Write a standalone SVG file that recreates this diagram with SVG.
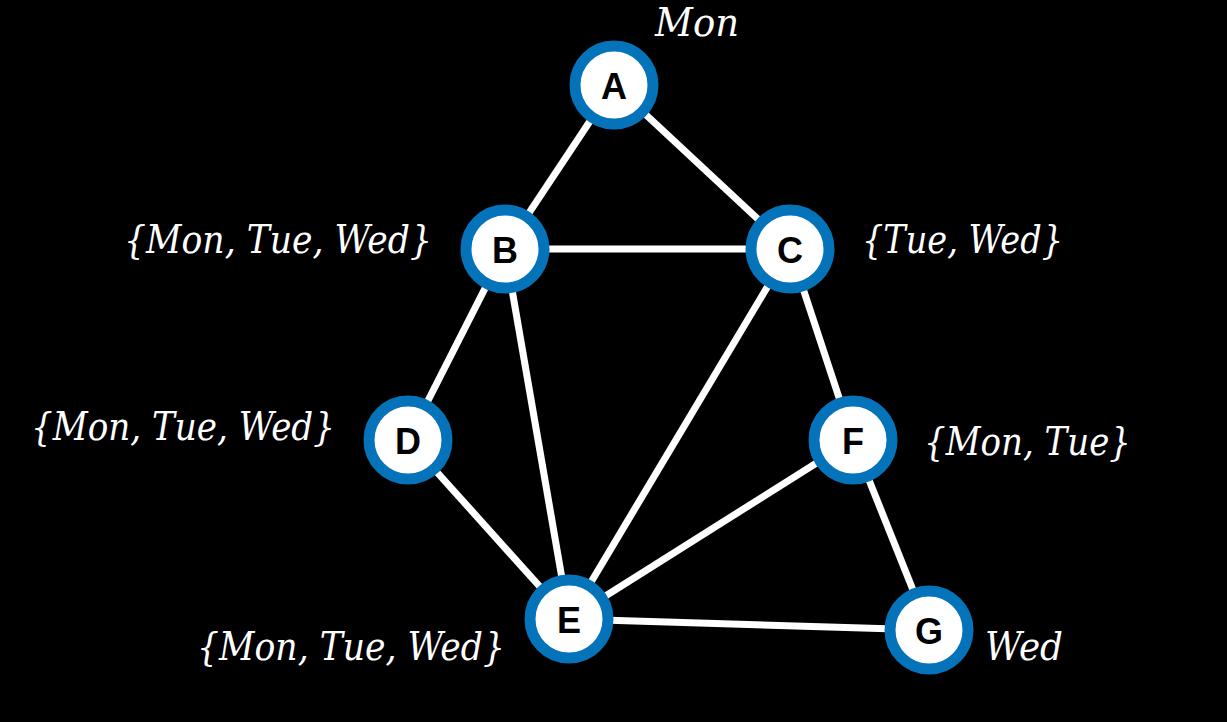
<svg xmlns="http://www.w3.org/2000/svg" width="1227" height="722" viewBox="0 0 1227 722">
<style>
.edge{stroke:#fff;stroke-width:7;fill:none}
.ring{fill:#fff;stroke:#0473b9;stroke-width:11}
.lbl{font-family:"Liberation Sans",Arial,sans-serif;font-weight:bold;font-size:36px;fill:#000;text-anchor:middle;dominant-baseline:central}
.dom{font-family:"DejaVu Serif","Liberation Serif",serif;font-style:italic;font-size:40px;fill:#fff}
</style>
<rect width="1227" height="722" fill="#000"/>
<g id="edges">
<line class="edge" x1="614" y1="85" x2="505" y2="249"/>
<line class="edge" x1="614" y1="85" x2="790" y2="249"/>
<line class="edge" x1="505" y1="249" x2="790" y2="249"/>
<line class="edge" x1="505" y1="249" x2="408" y2="440"/>
<line class="edge" x1="505" y1="249" x2="569" y2="619"/>
<line class="edge" x1="790" y1="249" x2="569" y2="619"/>
<line class="edge" x1="790" y1="249" x2="853" y2="440"/>
<line class="edge" x1="408" y1="440" x2="569" y2="619"/>
<line class="edge" x1="853" y1="440" x2="569" y2="619"/>
<line class="edge" x1="853" y1="440" x2="929" y2="630"/>
<line class="edge" x1="569" y1="619" x2="929" y2="630"/>
</g>
<g id="A"><circle class="ring" cx="614" cy="85" r="39"/><text class="lbl" x="614" y="86">A</text><text class="dom" x="655" y="36" textLength="84" lengthAdjust="spacingAndGlyphs">Mon</text></g>
<g id="B"><circle class="ring" cx="505" cy="249" r="39"/><text class="lbl" x="505" y="250">B</text><text class="dom" x="124" y="253" textLength="308" lengthAdjust="spacingAndGlyphs">{Mon, Tue, Wed}</text></g>
<g id="C"><circle class="ring" cx="790" cy="249" r="39"/><text class="lbl" x="790" y="250">C</text><text class="dom" x="862" y="253" textLength="201" lengthAdjust="spacingAndGlyphs">{Tue, Wed}</text></g>
<g id="D"><circle class="ring" cx="408" cy="440" r="39"/><text class="lbl" x="408" y="441">D</text><text class="dom" x="31" y="440" textLength="304" lengthAdjust="spacingAndGlyphs">{Mon, Tue, Wed}</text></g>
<g id="F"><circle class="ring" cx="853" cy="440" r="39"/><text class="lbl" x="853" y="441">F</text><text class="dom" x="924" y="455" textLength="207" lengthAdjust="spacingAndGlyphs">{Mon, Tue}</text></g>
<g id="E"><circle class="ring" cx="569" cy="619" r="39"/><text class="lbl" x="569" y="620">E</text><text class="dom" x="197" y="660" textLength="308" lengthAdjust="spacingAndGlyphs">{Mon, Tue, Wed}</text></g>
<g id="G"><circle class="ring" cx="929" cy="630" r="39"/><text class="lbl" x="929" y="631">G</text><text class="dom" x="985" y="660" textLength="78" lengthAdjust="spacingAndGlyphs">Wed</text></g>
</svg>
